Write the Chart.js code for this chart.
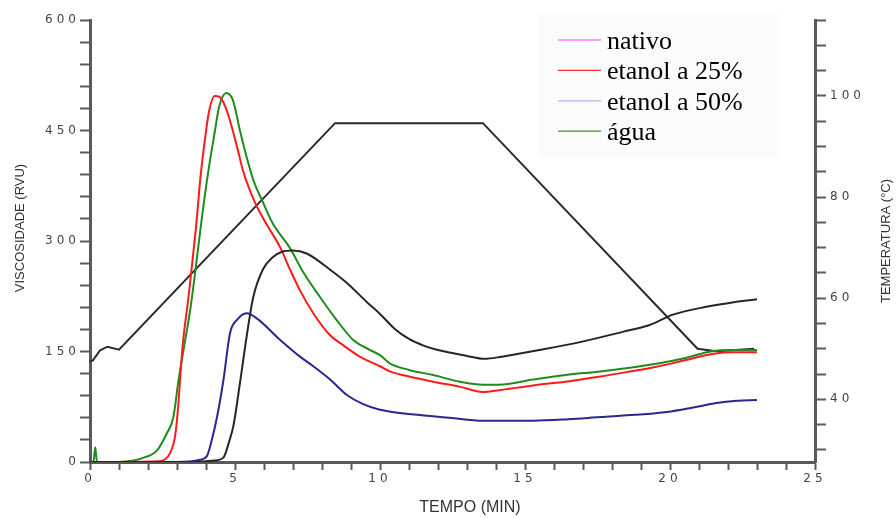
<!DOCTYPE html>
<html>
<head>
<meta charset="utf-8">
<title>Viscosidade RVA</title>
<script src="https://cdn.jsdelivr.net/npm/chart.js@4.4.1/dist/chart.umd.min.js"></script>
<style>
    html, body { margin: 0; padding: 0; background: #fff; }
    canvas { display: block; }
</style>
</head>
<body>
<canvas id="chart" width="896" height="518"></canvas>
<script>
'use strict';

// tempo (min) / viscosidade (RVU)
const nativoTempo = [0, 3.5, 4.3, 4.6, 4.8, 4.95, 5.17, 5.4, 5.63, 5.97, 6.3, 6.6, 7.0, 7.47, 8.28, 8.86, 9.55, 10.0, 10.5, 11.0, 11.5, 12.0, 13.0, 13.6, 14.2, 15.5, 16.7, 18.4, 19.3, 20.1, 21.3, 22.2, 23.0];
const nativoVisc = [0, 0, 2, 6, 28, 50, 107, 170, 224, 262, 278, 285, 287, 283, 261, 243, 217, 201, 181, 167, 158, 152, 144, 140, 143, 152, 161, 177, 186, 200, 211, 217, 221];

const etanol25Tempo = [0, 2.4, 2.6, 2.76, 2.93, 3.04, 3.12, 3.2, 3.4, 3.5, 3.68, 3.8, 3.97, 4.1, 4.3, 4.45, 4.6, 4.76, 5.07, 5.28, 5.69, 6.1, 6.55, 6.9, 7.24, 7.7, 8.28, 8.75, 9.3, 10.0, 10.34, 11.0, 11.83, 12.76, 13.55, 14.03, 15.28, 16.4, 17.6, 18.5, 19.5, 20.5, 21.5, 22.2, 23.0];
const etanol25Visc = [0, 1, 4, 12, 34, 75, 120, 160, 225, 261, 329, 383, 440, 475, 497, 496, 488, 472, 428, 395, 352, 322, 292, 261, 233, 202, 172, 158, 143, 130, 123, 116, 109, 102, 95, 97, 104, 109, 116, 122, 129, 138, 147, 149, 149];

const etanol50Tempo = [0, 3.0, 3.8, 4.03, 4.2, 4.38, 4.6, 4.83, 5.07, 5.4, 5.75, 6.55, 7.24, 7.7, 8.28, 8.86, 9.4, 10.0, 11.3, 12.4, 13.55, 15.28, 16.5, 17.6, 18.8, 19.9, 20.8, 21.6, 22.3, 23.0];
const etanol50Visc = [0, 0, 3, 8, 30, 61, 111, 175, 193, 202, 195, 166, 143, 130, 112, 91, 79, 71, 64, 60, 56, 56, 58, 61, 64, 68, 74, 80, 83, 84];

const aguaTempo = [0, 0.12, 0.18, 0.24, 1.0, 1.5, 1.85, 2.3, 2.65, 2.87, 3.05, 3.25, 3.45, 3.62, 3.85, 4.07, 4.31, 4.45, 4.7, 4.93, 5.17, 5.4, 5.63, 5.97, 6.3, 6.9, 7.35, 7.93, 8.5, 9.07, 9.66, 10.0, 10.34, 11.0, 11.83, 12.76, 13.55, 14.1, 15.28, 16.4, 17.6, 18.8, 19.9, 20.7, 21.4, 22.2, 23.0];
const aguaVisc = [0, 0, 20, 0, 0, 2, 6, 15, 39, 60, 110, 158, 205, 255, 329, 392, 450, 482, 501, 491, 450, 414, 383, 352, 324, 290, 258, 224, 193, 166, 152, 145, 134, 125, 118, 109, 105, 105, 112, 118, 123, 129, 136, 143, 150, 152, 152];

// perfil de temperatura (°C)
const tempTempo = [0, 0.1, 0.35, 0.6, 1.0, 8.45, 13.55, 20.95, 21.6, 22.9];
const tempValor = [47.5, 47.7, 49.7, 50.4, 49.8, 94.6, 94.6, 50.0, 49.5, 50.0];

// rótulos dos eixos
const tempoLabels = [0, 5, 10, 15, 20, 25];
const viscLabels = [0, 150, 300, 450, 600];
const tempLabels = [40, 60, 80, 100];

const pts = (t, v) => t.map((x, i) => ({ x: x, y: v[i] }));

// tick labels of the original are widely spaced
const baseDrawLabels = Chart.Scale.prototype.drawLabels;
Chart.Scale.prototype.drawLabels = function (area) {
    this.ctx.save();
    this.ctx.letterSpacing = '4px';
    baseDrawLabels.call(this, area);
    this.ctx.restore();
};

function everyStep(from, to, step) {
    return (scale) => {
        const ticks = [];
        for (let v = from; v <= to + 1e-9; v += step)
            ticks.push({ value: Math.round(v * 1000) / 1000 });
        scale.ticks = ticks;
    };
}

const axisColor = '#5a5a5a';
const tickFont = { family: '"DejaVu Sans", sans-serif', size: 12 };

const extras = {
    id: 'extras',
    afterDraw(chart) {
        const ctx = chart.ctx;
        ctx.save();
        ctx.fillStyle = '#fbfbfb';
        ctx.fillRect(538, 13, 242, 144);
        ctx.font = '26px "Liberation Serif", "Times New Roman", serif';
        ctx.textBaseline = 'alphabetic';
        ctx.textAlign = 'left';
        let row = 0;
        chart.data.datasets.forEach((ds) => {
            if (!ds.legendColor) return;
            const base = 49 + row * 30.4;
            ctx.strokeStyle = ds.legendColor;
            ctx.lineWidth = 1.2;
            ctx.beginPath();
            ctx.moveTo(558, base - 9);
            ctx.lineTo(601, base - 9);
            ctx.stroke();
            ctx.fillStyle = '#000';
            ctx.fillText(ds.label, 607, base);
            row++;
        });

        // axis titles
        ctx.fillStyle = '#333';
        ctx.textAlign = 'center';
        ctx.textBaseline = 'middle';
        ctx.font = '16px "Liberation Sans", Arial, sans-serif';
        ctx.fillText('TEMPO (MIN)', 470, 508);
        ctx.font = '13px "Liberation Sans", Arial, sans-serif';
        ctx.save();
        ctx.translate(20, 228);
        ctx.rotate(-Math.PI / 2);
        ctx.fillText('VISCOSIDADE (RVU)', 0, 0);
        ctx.restore();
        ctx.translate(886, 241);
        ctx.rotate(-Math.PI / 2);
        ctx.fillText('TEMPERATURA (°C)', 0, 0);
        ctx.restore();
    }
};

const visc = { yAxisID: 'y', borderWidth: 2, cubicInterpolationMode: 'monotone' };

new Chart(document.getElementById('chart'), {
    type: 'line',
    data: {
        datasets: [
            Object.assign({ label: 'nativo', data: pts(nativoTempo, nativoVisc), borderColor: '#262626', legendColor: '#ff33ff' }, visc),
            Object.assign({ label: 'etanol a 25%', data: pts(etanol25Tempo, etanol25Visc), borderColor: '#ff1a1a', legendColor: '#ff2a2a' }, visc),
            Object.assign({ label: 'etanol a 50%', data: pts(etanol50Tempo, etanol50Visc), borderColor: '#28288e', legendColor: '#b4b4ee' }, visc),
            Object.assign({ label: 'água', data: pts(aguaTempo, aguaVisc), borderColor: '#1f8c1f', legendColor: '#2e9a2e' }, visc),
            { label: 'temperatura', data: pts(tempTempo, tempValor), yAxisID: 'y2', borderColor: '#2a2a2a', borderWidth: 2, tension: 0 }
        ]
    },
    options: {
        responsive: false,
        animation: false,
        devicePixelRatio: 1,
        layout: { padding: { top: 20, left: 0, right: 0, bottom: 0 } },
        elements: { point: { radius: 0 } },
        plugins: { legend: { display: false }, tooltip: { enabled: false } },
        scales: {
            x: {
                type: 'linear', min: 0, max: 25,
                afterBuildTicks: everyStep(0, 25, 1),
                afterFit: (s) => { s.height = 56; },
                ticks: {
                    autoSkip: false, maxRotation: 0, padding: 2,
                    font: tickFont, color: '#444',
                    callback: (v) => tempoLabels.includes(v) ? String(v) : ''
                },
                grid: { drawOnChartArea: false, tickLength: 8, tickColor: axisColor, tickWidth: 2 },
                border: { color: axisColor, width: 3 }
            },
            y: {
                type: 'linear', position: 'left', min: 0, max: 600,
                afterBuildTicks: everyStep(0, 600, 30),
                afterFit: (s) => { s.width = 90; },
                ticks: {
                    autoSkip: false, padding: 0,
                    font: tickFont, color: '#444',
                    callback: (v) => viscLabels.includes(v) ? String(v) : ''
                },
                grid: { drawOnChartArea: false, tickLength: 10, tickColor: axisColor, tickWidth: 2 },
                border: { color: axisColor, width: 3 }
            },
            y2: {
                type: 'linear', position: 'right', min: 27.6, max: 115,
                afterBuildTicks: everyStep(30, 115, 5),
                afterFit: (s) => { s.width = 81; },
                ticks: {
                    autoSkip: false, padding: 4,
                    font: tickFont, color: '#444',
                    callback: (v) => tempLabels.includes(v) ? String(v) : ''
                },
                grid: { drawOnChartArea: false, tickLength: 11, tickColor: axisColor, tickWidth: 2 },
                border: { color: axisColor, width: 3 }
            }
        }
    },
    plugins: [extras]
});
</script>
</body>
</html>
